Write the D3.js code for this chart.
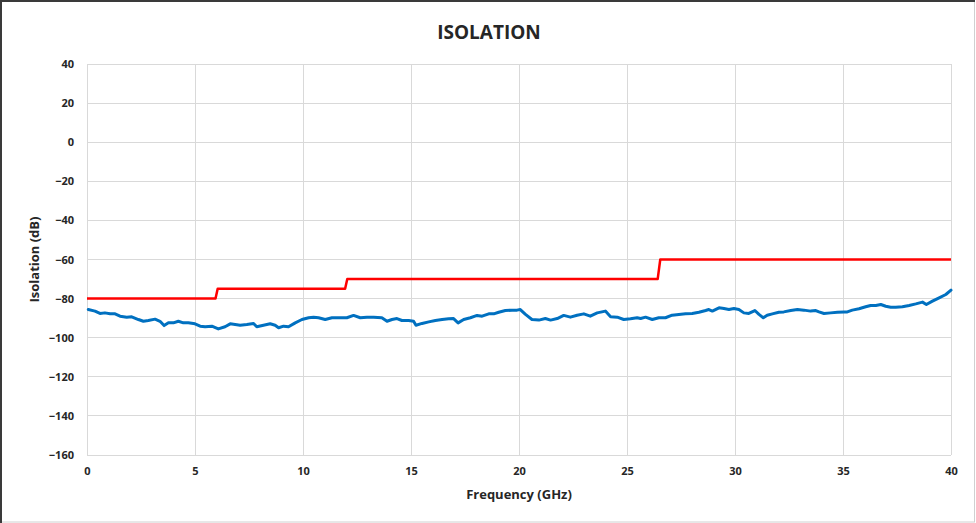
<!DOCTYPE html>
<html>
<head>
<meta charset="utf-8">
<script src="https://cdn.jsdelivr.net/npm/d3@7"></script>
<style>
  body { margin: 0; background: #fff; }
  svg { display: block; }
</style>
</head>
<body>
<svg id="chart"></svg>
<script>
// measured isolation trace (GHz, dB)
const measFreq = [0.06, 0.37, 0.6, 0.83, 1.07, 1.3, 1.53, 1.84, 2.07, 2.38, 2.61, 2.84, 3.15, 3.38, 3.57, 3.77, 4.0, 4.23, 4.46, 4.69, 5.0, 5.24, 5.47, 5.78, 6.08, 6.39, 6.63, 7.09, 7.4, 7.71, 7.86, 8.17, 8.48, 8.71, 8.87, 9.1, 9.33, 9.64, 9.95, 10.26, 10.49, 10.72, 11.03, 11.34, 11.72, 12.03, 12.34, 12.65, 12.96, 13.27, 13.65, 13.89, 14.12, 14.35, 14.58, 14.89, 15.12, 15.23, 15.51, 15.82, 16.13, 16.44, 16.74, 16.97, 17.18, 17.44, 17.75, 18.06, 18.29, 18.6, 18.83, 19.06, 19.37, 19.68, 19.91, 20.06, 20.3, 20.6, 20.92, 21.22, 21.46, 21.77, 22.07, 22.38, 22.69, 23.0, 23.3, 23.62, 24.0, 24.24, 24.55, 24.85, 25.16, 25.47, 25.63, 25.86, 26.17, 26.47, 26.78, 27.09, 27.4, 27.71, 28.02, 28.33, 28.64, 28.79, 28.95, 29.26, 29.49, 29.72, 29.95, 30.18, 30.41, 30.64, 30.92, 31.11, 31.31, 31.49, 31.73, 32.03, 32.26, 32.58, 32.89, 33.19, 33.5, 33.74, 33.89, 34.12, 34.43, 34.74, 35.05, 35.2, 35.43, 35.74, 36.05, 36.28, 36.52, 36.75, 36.98, 37.21, 37.44, 37.75, 38.06, 38.37, 38.68, 38.86, 39.14, 39.45, 39.76, 40.0];
const measIso = [-85.6, -86.4, -87.6, -87.3, -87.8, -87.8, -89.0, -89.5, -89.3, -90.7, -91.6, -91.2, -90.5, -91.6, -93.8, -92.4, -92.4, -91.6, -92.4, -92.4, -92.9, -94.1, -94.4, -94.1, -95.5, -94.4, -92.9, -93.6, -93.2, -92.7, -94.4, -93.6, -92.9, -93.6, -94.9, -94.1, -94.4, -92.4, -90.7, -89.8, -89.5, -89.8, -90.7, -89.8, -89.8, -89.8, -88.6, -89.8, -89.5, -89.5, -89.8, -91.6, -90.7, -90.2, -91.2, -91.2, -91.6, -93.6, -92.7, -91.9, -91.2, -90.7, -90.3, -90.2, -92.4, -90.7, -89.8, -88.6, -89.0, -87.8, -87.8, -87.0, -86.1, -85.9, -85.9, -85.6, -88.1, -90.7, -91.0, -90.2, -91.0, -90.2, -88.6, -89.5, -88.5, -87.8, -89.0, -87.3, -86.4, -89.3, -89.5, -90.7, -90.3, -89.8, -90.2, -89.5, -90.7, -89.8, -89.8, -88.5, -88.1, -87.8, -87.6, -87.0, -86.1, -85.6, -86.4, -84.7, -85.1, -85.6, -85.1, -85.6, -87.3, -87.6, -86.1, -88.1, -89.8, -88.5, -87.8, -87.0, -86.8, -86.1, -85.6, -85.9, -86.4, -86.1, -86.8, -87.6, -87.3, -87.0, -86.8, -86.8, -85.9, -85.2, -84.2, -83.5, -83.5, -83.0, -83.9, -84.4, -84.4, -84.2, -83.5, -82.7, -81.8, -83.0, -81.3, -79.6, -77.9, -75.7];

// spec limit (GHz, dB)
const limitFreq = [0, 5.95, 6.05, 11.95, 12.05, 26.42, 26.54, 40];
const limitIso = [-80, -80, -75, -75, -70, -70, -60, -60];

const xTicks = [0, 5, 10, 15, 20, 25, 30, 35, 40];
const yTicks = [40, 20, 0, -20, -40, -60, -80, -100, -120, -140, -160];

const W = 976, H = 523;
const margin = {top: 64, right: 25, bottom: 68, left: 87};

const svg = d3.select('#chart').attr('width', W).attr('height', H);

// frame
svg.append('rect').attr('x', 0.5).attr('y', 0.5).attr('width', W - 2).attr('height', H - 1.5)
  .attr('fill', '#fff').attr('stroke', '#d0d0d0');
svg.append('path').attr('d', `M1,${H} L1,1 L${W - 1},1`)
  .attr('fill', 'none').attr('stroke', '#3a3a3a').attr('stroke-width', 2);

const x = d3.scaleLinear().domain([0, 40]).range([margin.left, W - margin.right]);
const y = d3.scaleLinear().domain([-160, 40]).range([H - margin.bottom, margin.top]);

// grid
svg.append('g')
  .selectAll('line').data(xTicks).enter().append('line')
  .attr('x1', d => x(d)).attr('x2', d => x(d))
  .attr('y1', y(40)).attr('y2', y(-160))
  .attr('stroke', '#d9d9d9').attr('shape-rendering', 'crispEdges');
svg.append('g')
  .selectAll('line').data(yTicks).enter().append('line')
  .attr('x1', x(0)).attr('x2', x(40))
  .attr('y1', d => y(d)).attr('y2', d => y(d))
  .attr('stroke', '#d9d9d9').attr('shape-rendering', 'crispEdges');

// axes (labels only)
const xAxis = svg.append('g')
  .attr('transform', `translate(0, ${y(-160)})`)
  .call(d3.axisBottom(x).tickValues(xTicks).tickSize(0).tickPadding(12));
const yAxis = svg.append('g')
  .attr('transform', `translate(${x(0)}, 0)`)
  .call(d3.axisLeft(y).tickValues(yTicks).tickSize(0).tickPadding(13));

svg.selectAll('.domain').remove();
svg.selectAll('.tick text')
  .attr('fill', '#262626')
  .style('font', 'bold 11px "Open Sans"');

// series
const line = d3.line().x(d => x(d[0])).y(d => y(d[1]));

svg.append('path')
  .datum(limitFreq.map((f, i) => [f, limitIso[i]]))
  .attr('d', line)
  .attr('fill', 'none').attr('stroke', '#ff0000').attr('stroke-width', 2.5)
  .attr('stroke-linejoin', 'round');

svg.append('path')
  .datum(measFreq.map((f, i) => [f, measIso[i]]))
  .attr('d', line)
  .attr('fill', 'none').attr('stroke', '#0070c0').attr('stroke-width', 3)
  .attr('stroke-linejoin', 'round').attr('stroke-linecap', 'round');

// titles
svg.append('text')
  .attr('x', 489).attr('y', 39)
  .attr('text-anchor', 'middle')
  .attr('fill', '#262626')
  .style('font', 'bold 19px "Open Sans"')
  .text('ISOLATION');

svg.append('text')
  .attr('x', (x(0) + x(40)) / 2).attr('y', 499)
  .attr('text-anchor', 'middle')
  .attr('fill', '#262626')
  .style('font', 'bold 13px "Open Sans"')
  .text('Frequency (GHz)');

svg.append('text')
  .attr('transform', `translate(39, ${(y(40) + y(-160)) / 2}) rotate(-90)`)
  .attr('text-anchor', 'middle')
  .attr('fill', '#262626')
  .style('font', 'bold 13px "Open Sans"')
  .text('Isolation (dB)');
</script>
</body>
</html>
